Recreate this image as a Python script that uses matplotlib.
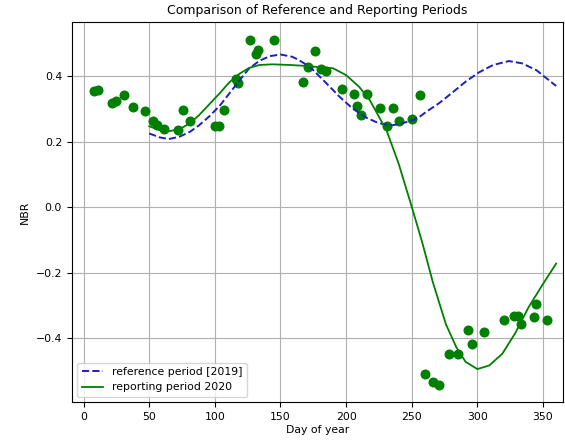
import matplotlib
matplotlib.use("Agg")
import matplotlib.pyplot as plt

# observations 2020 (day of year, NBR)
obs_day = [8, 11, 22, 25, 31, 38, 47, 53, 56, 61, 72, 76, 81, 100, 103, 107,
           116, 118, 127, 131, 133, 145, 167, 171, 176, 181, 185, 197, 206,
           208, 211, 216, 226, 231, 236, 240, 250, 256,
           260, 266, 271, 278, 285, 293, 296, 305, 320, 328, 331, 333, 343,
           345, 353]
obs_nbr = [0.355, 0.357, 0.318, 0.325, 0.341, 0.305, 0.293, 0.263, 0.251,
           0.240, 0.235, 0.296, 0.264, 0.247, 0.247, 0.296, 0.390, 0.380,
           0.510, 0.466, 0.480, 0.510, 0.381, 0.428, 0.478, 0.423, 0.415,
           0.360, 0.346, 0.308, 0.280, 0.346, 0.304, 0.249, 0.304, 0.263,
           0.268, 0.343,
           -0.508, -0.533, -0.543, -0.448, -0.449, -0.374, -0.417, -0.380,
           -0.343, -0.332, -0.332, -0.357, -0.334, -0.294, -0.343]

# fitted curve of the reference period
ref_day = [50, 58, 65, 73, 81, 88, 96, 104, 111, 119, 126, 134, 142, 150,
           159, 164, 170, 175, 185, 195, 205, 215, 225, 235, 241, 246, 251,
           256, 261, 271, 281, 291, 301, 312, 324, 334, 345, 358, 360]
ref_nbr = [0.225, 0.213, 0.208, 0.215, 0.230, 0.250, 0.278, 0.311, 0.347,
           0.388, 0.423, 0.447, 0.461, 0.466, 0.459, 0.449, 0.434, 0.418,
           0.378, 0.337, 0.301, 0.274, 0.256, 0.250, 0.254, 0.260, 0.266,
           0.276, 0.291, 0.318, 0.350, 0.383, 0.411, 0.434, 0.446, 0.439,
           0.418, 0.376, 0.370]

# fitted curve of the reporting period
rep_day = [50, 58, 65, 73, 81, 88, 96, 104, 111, 119, 126, 134, 144, 157,
           170, 180, 190, 200, 210, 218, 225, 231, 240, 250, 258, 266,
           276, 284, 291, 300, 309, 319, 329, 339, 350, 360]
rep_nbr = [0.247, 0.235, 0.232, 0.238, 0.256, 0.281, 0.315, 0.349, 0.381,
           0.408, 0.425, 0.434, 0.436, 0.434, 0.431, 0.427, 0.424, 0.403,
           0.367, 0.327, 0.276, 0.232, 0.133, 0.001, -0.108, -0.228,
           -0.357, -0.428, -0.472, -0.494, -0.483, -0.447, -0.383,
           -0.305, -0.234, -0.172]

fig = plt.figure(figsize=(5.65, 4.41), dpi=100)
ax = fig.add_subplot(111)
fig.subplots_adjust(left=0.127, right=0.996, top=0.950, bottom=0.088)

ax.plot(obs_day, obs_nbr, 'o', color='green', markersize=6.2)
ax.plot(ref_day, ref_nbr, '--', color='#1f1fc0', linewidth=1.4,
        label='reference period [2019]')
ax.plot(rep_day, rep_nbr, '-', color='green', linewidth=1.3,
        label='reporting period 2020')

ax.set_xlim(-9, 365)
ax.set_ylim(-0.595, 0.565)
ax.set_xticks([0, 50, 100, 150, 200, 250, 300, 350])
ax.set_yticks([-0.4, -0.2, 0.0, 0.2, 0.4])
ax.tick_params(labelsize=7.8)
ax.grid(True)

ax.set_title('Comparison of Reference and Reporting Periods', fontsize=9.0)
ax.set_xlabel('Day of year', fontsize=7.8, labelpad=2)
ax.set_ylabel('NBR', fontsize=7.8)
ax.legend(loc='lower left', fontsize=7.8)

fig.savefig('out.png', dpi=100)
